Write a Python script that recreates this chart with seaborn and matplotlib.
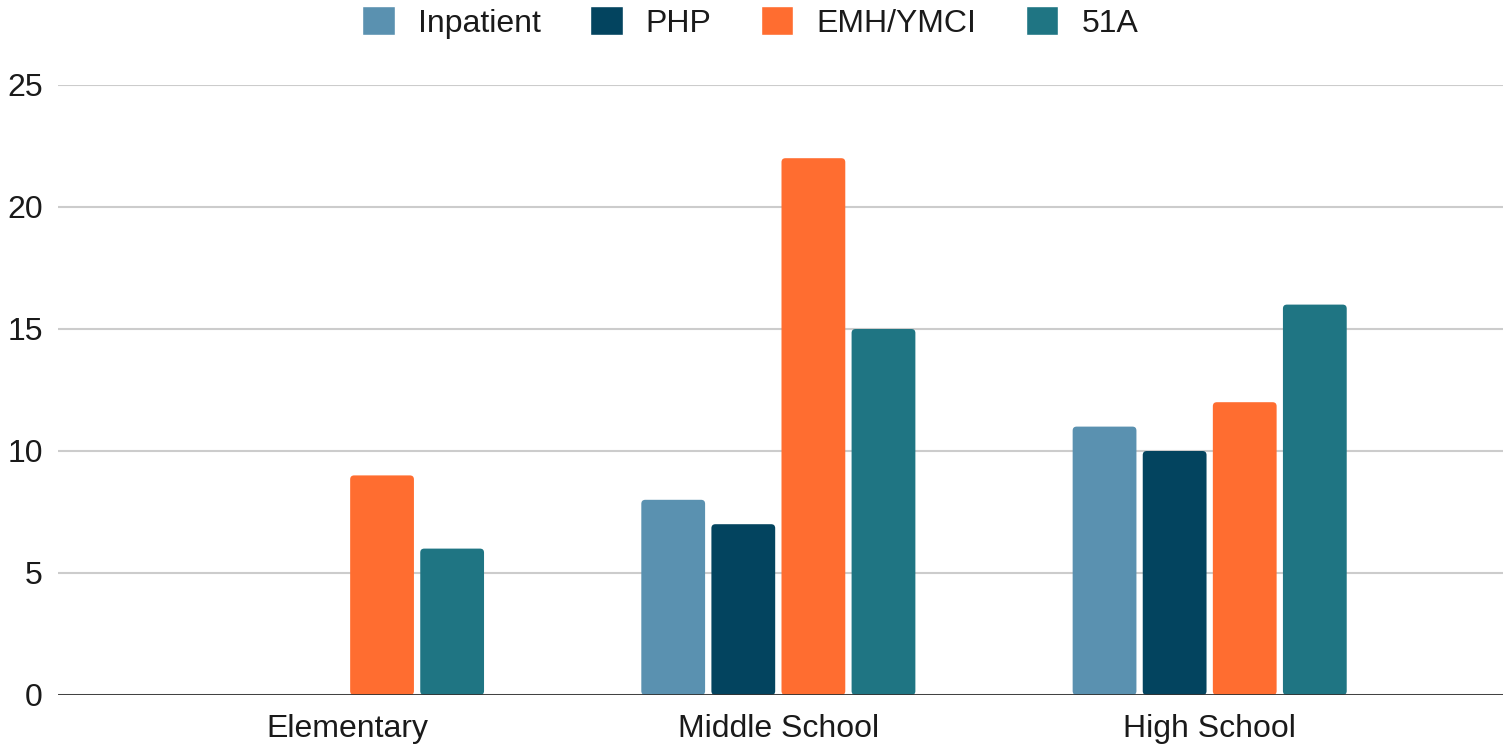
import matplotlib
matplotlib.use("Agg")
import matplotlib.pyplot as plt
from matplotlib.patches import FancyBboxPatch
import seaborn as sns
import pandas as pd

# Referrals by school level and program
levels = ["Elementary", "Middle School", "High School"]
programs = ["Inpatient", "PHP", "EMH/YMCI", "51A"]
inpatient = [0, 8, 11]
php = [0, 7, 10]
emh_ymci = [9, 22, 12]
a51 = [6, 15, 16]
yticks = [0, 5, 10, 15, 20, 25]
colors = ["#5A91B0", "#03445F", "#FF6D30", "#1F7583"]

series = {"Inpatient": inpatient, "PHP": php, "EMH/YMCI": emh_ymci, "51A": a51}
rows = []
for prog in programs:
    for lvl, v in zip(levels, series[prog]):
        rows.append({"level": lvl, "program": prog, "count": v})
df = pd.DataFrame(rows)

sns.set_theme(style="white")
plt.rcParams["font.family"] = ["Liberation Sans", "DejaVu Sans"]

fig = plt.figure(figsize=(15.03, 7.46), dpi=100)
ax = fig.add_axes([58 / 1503, 51 / 746, 1445 / 1503, 610 / 746])

sns.barplot(data=df, x="level", y="count", hue="program", hue_order=programs,
            order=levels, palette=colors, width=0.65, gap=0.09,
            saturation=1, ax=ax, legend=True)

# Rounded tops on the bars
x_px_per_unit = 431.5
y_px_per_unit = 610 / 25
for cont in list(ax.containers):
    for rect in cont:
        h = rect.get_height()
        if h <= 0:
            rect.set_visible(False)
            continue
        x, y, w = rect.get_x(), rect.get_y(), rect.get_width()
        fb = FancyBboxPatch((x, y), w, h,
                            boxstyle="round,pad=0,rounding_size=%f" % (4 / x_px_per_unit),
                            mutation_aspect=x_px_per_unit / y_px_per_unit,
                            facecolor=rect.get_facecolor(), edgecolor="none",
                            zorder=rect.get_zorder())
        rect.set_visible(False)
        ax.add_patch(fb)

ax.set_xlim(-0.67, 2.68)
ax.set_ylim(0, 25)
ax.set_yticks(yticks)
ax.set_yticklabels([str(t) for t in yticks])
ax.yaxis.grid(True, color="#cccccc", linewidth=1.5)
ax.set_axisbelow(True)
ax.axhline(0, color="#333333", linewidth=2, zorder=5)
for s in ["top", "right", "left", "bottom"]:
    ax.spines[s].set_visible(False)
ax.set_xlabel("")
ax.set_ylabel("")
ax.tick_params(axis="both", length=0, labelsize=23, colors="#1a1a1a")
ax.tick_params(axis="y", pad=11)
ax.tick_params(axis="x", pad=14)

leg = ax.legend(loc="upper center", bbox_to_anchor=(0.479, 1.15), ncol=4, frameon=False,
                fontsize=23, handlelength=1.02, handleheight=1.02, handletextpad=0.72,
                columnspacing=1.55, borderaxespad=0)
for t in leg.get_texts():
    t.set_color("#1a1a1a")

fig.savefig("out.png", dpi=100)
